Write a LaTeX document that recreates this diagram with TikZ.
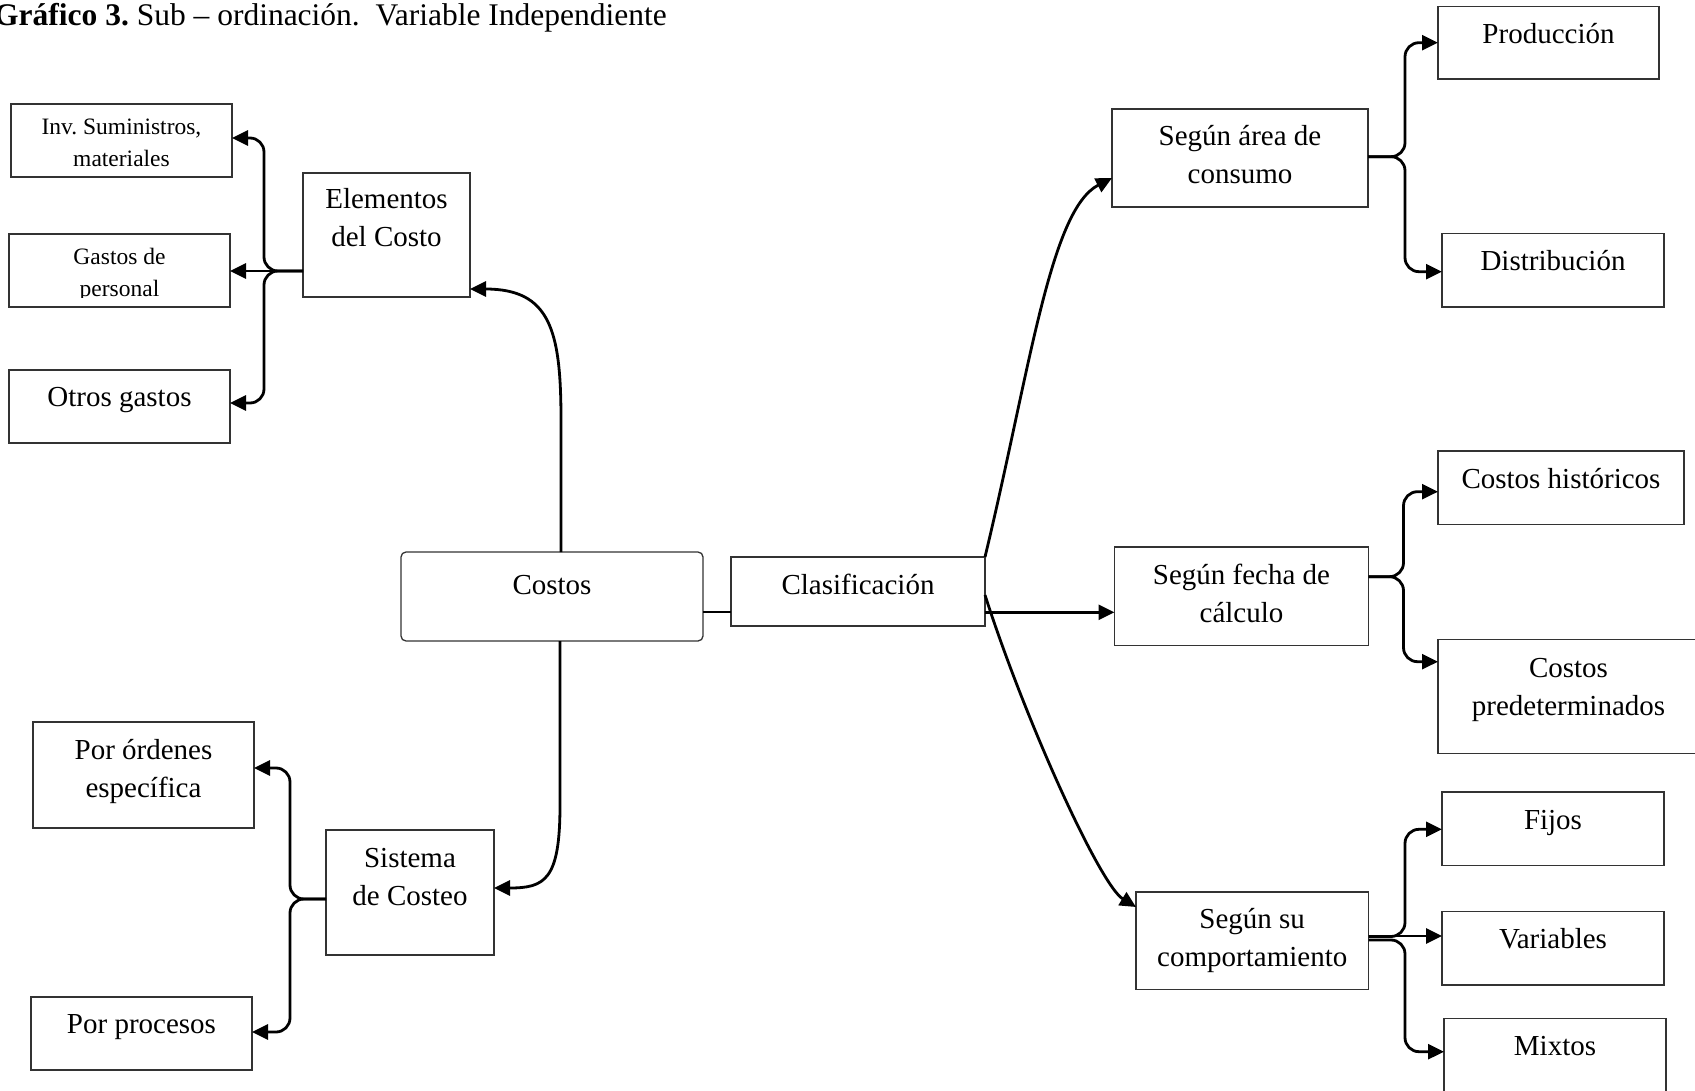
\documentclass[tikz,border=0pt]{standalone}
\usepackage{fontspec}
\setmainfont{Liberation Serif}
\usetikzlibrary{arrows.meta}
\frenchspacing

\newcommand\fmain{\fontsize{29}{38}\selectfont}
\newcommand\fsmall{\fontsize{23.5}{32}\selectfont}
\newcommand\ftitle{\fontsize{31.5}{38}\selectfont}

\tikzset{
  frame/.style={draw=black!80, line width=1.3pt, inner sep=0pt, outer sep=0pt},
  conn/.style={line width=2.8pt, line join=round, -{Triangle[length=16pt,width=15pt]}},
  link/.style={line width=2.8pt},
  brace/.style={conn, rounded corners=14pt},
  lbl/.style={anchor=base, inner sep=0pt},
}

% name, extra style, font, left, top, right, bottom, first baseline offset, text
\newcommand\mkbox[9]{%
  \node[frame,#2,anchor=north west,minimum width={(#6-#4)*1pt},minimum height={(#7-#5)*1pt}] (#1) at (#4,#5) {};
  \node[lbl] (#1-txt) at ({(#4+#6)/2},{#5+#8}) {\parbox[t]{420pt}{\centering#3 #9}};
}

\begin{document}
\begin{tikzpicture}[x=1pt,y=-1pt]
\useasboundingbox (0,0) rectangle (1695,1091);
\clip (0,0) rectangle (1695,1091);

% heading
\node[anchor=base west, inner sep=0pt] (title) at (-6,26)
  {\ftitle\textbf{Gráfico 3.} Sub – ordinación.\ \ Variable Independiente};

% left side: cost elements
\mkbox{inv}{}{\fsmall}{11}{104}{232}{177}{31}{Inv. Suministros,\\materiales}
\node[frame,anchor=north west,minimum width=221pt,minimum height=73pt] (gas) at (9,234) {};
\begin{scope}
  % the second line of this label is cut off just below its baseline
  \clip (9,234) rectangle (230,297.8);
  \node[lbl] (gas-txt) at (119.5,265) {\parbox[t]{420pt}{\centering\fsmall Gastos de\\personal}};
\end{scope}
\mkbox{otr}{}{\fmain}{9}{370}{230}{443}{36}{Otros gastos}
\mkbox{elem}{}{\fmain}{303}{173}{470}{297}{36}{Elementos\\del Costo}

% centre
\mkbox{cost}{rounded corners=5pt}{\fmain}{401}{552}{703}{641}{42}{Costos}
\mkbox{clas}{}{\fmain}{731}{557}{985}{626}{37}{Clasificación}

% left side: costing systems
\mkbox{ord}{}{\fmain}{33}{722}{254}{828}{37}{Por órdenes\\específica}
\mkbox{proc}{}{\fmain}{31}{997}{252}{1070}{36}{Por procesos}
\mkbox{sist}{}{\fmain}{326}{830}{494}{955}{37}{Sistema\\de Costeo}

% right side: classification
\mkbox{area}{}{\fmain}{1112}{109}{1368}{207}{37}{Según área de\\consumo}
\mkbox{prod}{}{\fmain}{1438}{6.5}{1659}{79}{37}{Producción}
\mkbox{dist}{}{\fmain}{1442}{233.5}{1664}{307}{37}{Distribución}

\mkbox{fecha}{}{\fmain}{1114.5}{547}{1368.5}{645.5}{37.5}{Según fecha de\\cálculo}
\mkbox{hist}{}{\fmain}{1438}{451}{1684}{524.5}{37}{Costos históricos}
\mkbox{pred}{}{\fmain}{1438}{639.5}{1699}{753.5}{37.5}{Costos\\predeterminados}

\mkbox{comp}{}{\fmain}{1136}{892}{1368.5}{989.5}{36.5}{Según su\\comportamiento}
\mkbox{fij}{}{\fmain}{1442}{792}{1664}{865.5}{37}{Fijos}
\mkbox{var}{}{\fmain}{1442}{911.5}{1664}{985}{36.5}{Variables}
\mkbox{mix}{}{\fmain}{1444}{1018.3}{1666}{1093}{37}{Mixtos}

% connectors from the centre
\draw[conn] (cost.north -| 561,0) -- (561,420)
  .. controls (561,330) and (550,289) .. (elem.east |- 0,289);
\draw[conn] (cost.south -| 560,0) -- (560,805)
  .. controls (560,880) and (545,888) .. (sist.east |- 0,888);
\draw[link] (cost.east |- 0,612) -- (clas.west |- 0,612);
\draw[conn] (clas.north east)
  .. controls (1030,370) and (1050,210) .. (area.west |- 0,178);
\draw[conn] (clas.east |- 0,612.3) -- (fecha.west |- 0,612.3);
\draw[conn] (clas.east |- 0,595)
  .. controls (1025,720) and (1100,885) .. (comp.west |- 0,907);

% braces on the left
\draw[brace] (elem.west |- 0,271) -| (264,138) -- (inv.east |- 0,138);
\draw[conn]  (elem.west |- 0,271) -- (gas.east |- 0,271);
\draw[brace] (elem.west |- 0,271) -| (264,403) -- (otr.east |- 0,403);

\draw[brace] (sist.west |- 0,899) -| (290,768) -- (ord.east |- 0,768);
\draw[brace] (sist.west |- 0,899) -| (290,1032) -- (proc.east |- 0,1032);

% braces on the right
\draw[brace] (area.east |- 0,156.7) -| (1405,42.7) -- (prod.west |- 0,42.7);
\draw[brace] (area.east |- 0,156.7) -| (1405,271.7) -- (dist.west |- 0,271.7);

\draw[brace] (fecha.east |- 0,576.7) -| (1403.5,491.7) -- (hist.west |- 0,491.7);
\draw[brace] (fecha.east |- 0,576.7) -| (1403.5,661.7) -- (pred.west |- 0,661.7);

\draw[brace] (comp.east |- 0,936.5) -| (1405,829.3) -- (fij.west |- 0,829.3);
\draw[conn]  (comp.east |- 0,936) -- (var.west |- 0,936);
\draw[brace] (comp.east |- 0,940) -| (1405,1051.7) -- (mix.west |- 0,1051.7);
\end{tikzpicture}
\end{document}
